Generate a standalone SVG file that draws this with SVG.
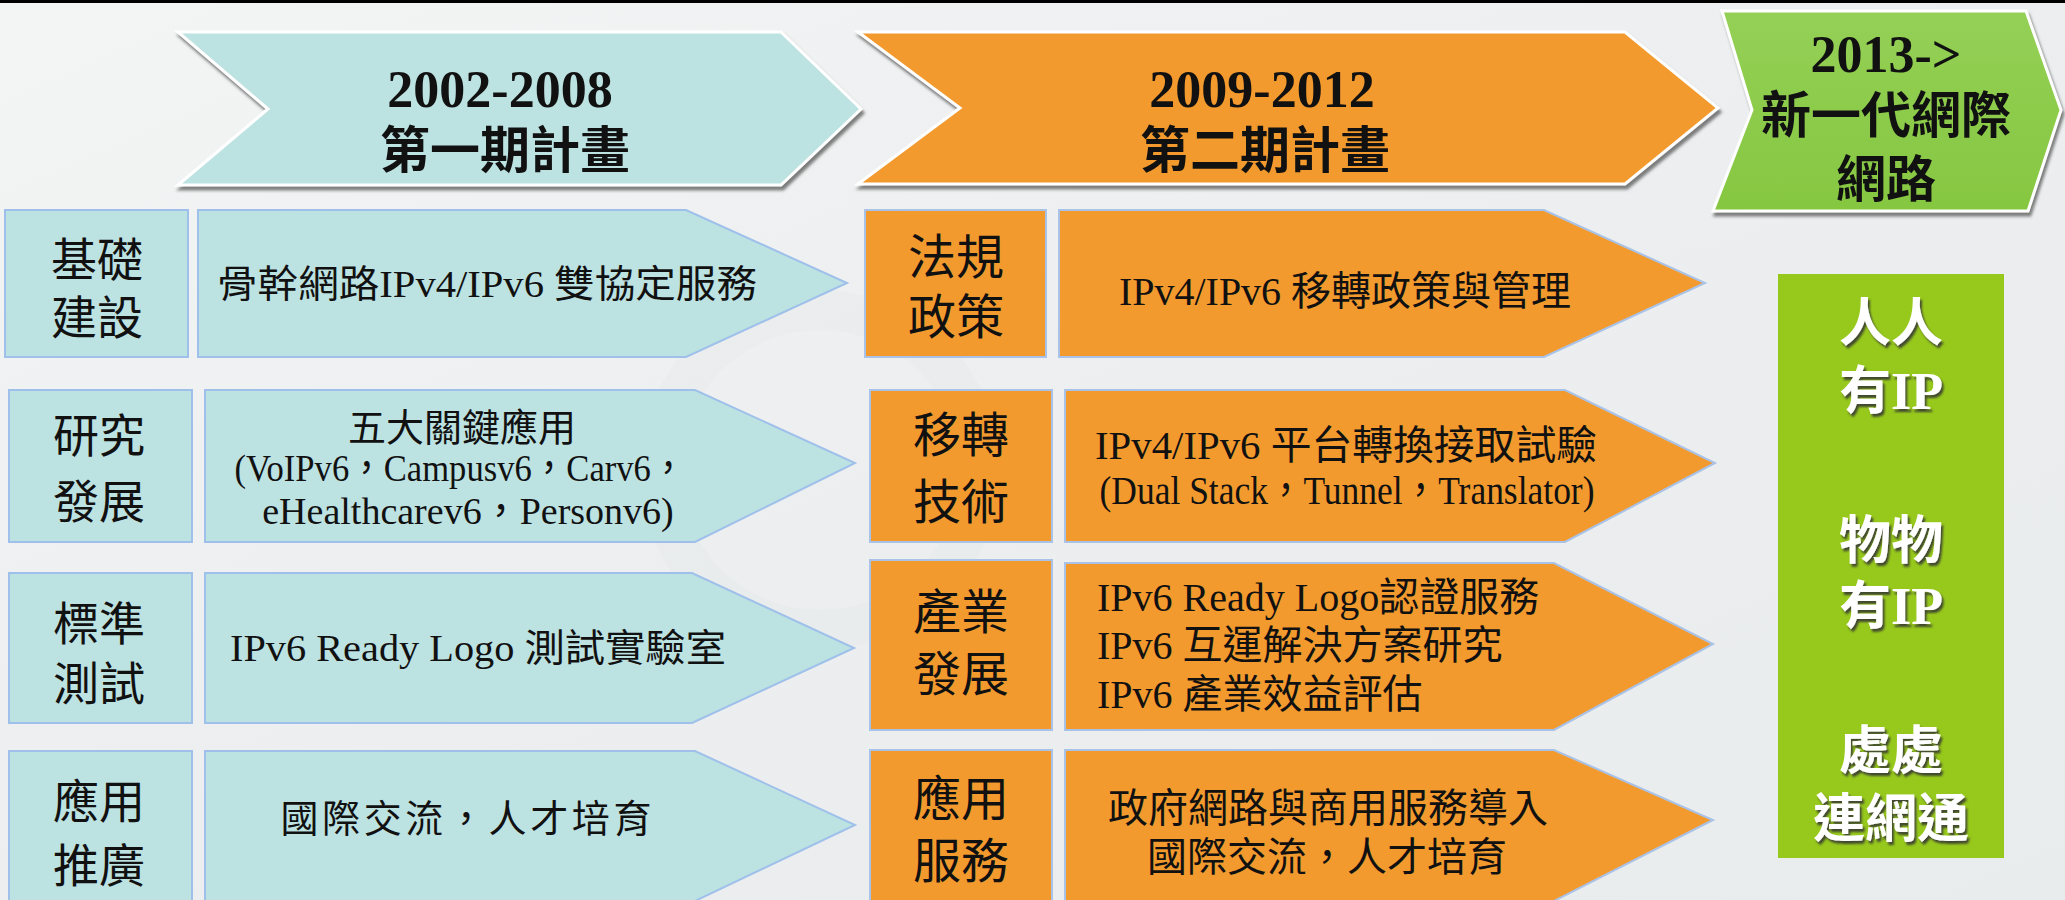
<svg xmlns="http://www.w3.org/2000/svg" width="2065" height="900" viewBox="0 0 2065 900">
<style>
.t{font-family:"Liberation Serif","Noto Sans CJK TC",serif;fill:#111;}
.lab{font-size:46px;text-anchor:middle;}
.labo{font-size:48px;text-anchor:middle;}
.b38{font-size:38px;text-anchor:middle;}
.o40{font-size:40px;}
.hd{font-size:52px;font-weight:bold;text-anchor:middle;}
.hc{font-size:50px;font-weight:bold;text-anchor:middle;}
.wt{font-family:"Liberation Serif","Noto Sans CJK TC",serif;font-size:52px;font-weight:bold;fill:#fff;text-anchor:middle;filter:url(#tsh);}
.blue{fill:#BDE2E2;stroke:#9FC0EA;stroke-width:2;}
.org{fill:#F39A2E;stroke:#A9C3E8;stroke-width:2;}
.hdr{stroke:#fff;stroke-width:3;filter:url(#hsh);}
</style>
<defs>
<linearGradient id="bg" x1="0" y1="0" x2="1" y2="1">
<stop offset="0" stop-color="#F3F5F5"/>
<stop offset="0.5" stop-color="#ECEEEF"/>
<stop offset="1" stop-color="#E9ECED"/>
</linearGradient>
<linearGradient id="gh" x1="0" y1="0" x2="0" y2="1">
<stop offset="0" stop-color="#94D056"/>
<stop offset="1" stop-color="#86C741"/>
</linearGradient>
<filter id="hsh" x="-5%" y="-10%" width="110%" height="125%">
<feDropShadow dx="2" dy="4" stdDeviation="1.5" flood-color="#6f6f6f" flood-opacity="0.9"/>
</filter>
<filter id="tsh" x="-10%" y="-10%" width="120%" height="130%">
<feDropShadow dx="2" dy="3" stdDeviation="1.2" flood-color="#333" flood-opacity="0.85"/>
</filter>
</defs>
<rect width="2065" height="900" fill="url(#bg)"/>
<circle cx="820" cy="470" r="160" fill="none" stroke="#E4E7E8" stroke-width="40" opacity="0.35"/>
<rect x="0" y="0" width="2065" height="3" fill="#000"/>

<g id="header1">
<polygon class="hdr" fill="#BDE2E2" points="178,32 781,32 861,109 781,185 178,185 268,109"/>
<text class="t hd" x="500" y="107">2002-2008</text>
<text class="t hc" x="505" y="168">第一期計畫</text>
</g>
<g id="header2">
<polygon class="hdr" fill="#F39A2E" points="858,32 1625,32 1718,108 1625,184 858,184 960,108"/>
<text class="t hd" x="1262" y="107">2009-2012</text>
<text class="t hc" x="1265" y="168">第二期計畫</text>
</g>
<g id="header3">
<polygon class="hdr" fill="url(#gh)" points="1722,11 2026,11 2061,110 2028,211 1713,211 1752,110"/>
<text class="t hd" x="1886" y="72">2013-&gt;</text>
<text class="t hc" x="1886" y="133">新一代網際</text>
<text class="t hc" x="1886" y="197">網路</text>
</g>

<g id="blue-row1">
<rect class="blue" x="5" y="210" width="183" height="147"/>
<text class="t lab" x="97" y="276">基礎</text>
<text class="t lab" x="97" y="334">建設</text>
<polygon class="blue" points="198,210 686,210 847,283 686,357 198,357"/>
<text class="t b38" x="487" y="297" textLength="540" lengthAdjust="spacingAndGlyphs">骨幹網路IPv4/IPv6 雙協定服務</text>
</g>
<g id="blue-row2">
<rect class="blue" x="9" y="390" width="183" height="152"/>
<text class="t lab" x="99" y="452">研究</text>
<text class="t lab" x="99" y="518">發展</text>
<polygon class="blue" points="205,390 695,390 855,463 695,542 205,542"/>
<text class="t b38" x="462" y="441">五大關鍵應用</text>
<text class="t b38" x="460" y="481" textLength="451" lengthAdjust="spacingAndGlyphs">(VoIPv6，Campusv6，Carv6，</text>
<text class="t b38" x="468" y="524">eHealthcarev6，Personv6)</text>
</g>
<g id="blue-row3">
<rect class="blue" x="9" y="573" width="183" height="150"/>
<text class="t lab" x="99" y="640">標準</text>
<text class="t lab" x="99" y="700">測試</text>
<polygon class="blue" points="205,573 692,573 854,648 692,723 205,723"/>
<text class="t b38" x="478" y="661" textLength="496" lengthAdjust="spacingAndGlyphs">IPv6 Ready Logo 測試實驗室</text>
</g>
<g id="blue-row4">
<rect class="blue" x="9" y="751" width="183" height="152"/>
<text class="t lab" x="99" y="818">應用</text>
<text class="t lab" x="99" y="882">推廣</text>
<polygon class="blue" points="205,751 695,751 855,825 695,901 205,901"/>
<text class="t b38" x="466" y="832" textLength="371" lengthAdjust="spacing">國際交流，人才培育</text>
</g>

<g id="orange-row1">
<rect class="org" x="865" y="210" width="181" height="147"/>
<text class="t labo" x="956" y="274">法規</text>
<text class="t labo" x="956" y="334">政策</text>
<polygon class="org" points="1059,210 1544,210 1705,283 1544,357 1059,357"/>
<text class="t o40" x="1345" y="305" text-anchor="middle">IPv4/IPv6 移轉政策與管理</text>
</g>
<g id="orange-row2">
<rect class="org" x="870" y="390" width="182" height="152"/>
<text class="t labo" x="961" y="452">移轉</text>
<text class="t labo" x="961" y="519">技術</text>
<polygon class="org" points="1065,390 1565,390 1715,463 1565,542 1065,542"/>
<text class="t o40" x="1346" y="459" text-anchor="middle" textLength="502" lengthAdjust="spacingAndGlyphs">IPv4/IPv6 平台轉換接取試驗</text>
<text class="t o40" x="1347" y="504" text-anchor="middle" textLength="495" lengthAdjust="spacingAndGlyphs">(Dual Stack，Tunnel，Translator)</text>
</g>
<g id="orange-row3">
<rect class="org" x="870" y="560" width="182" height="170"/>
<text class="t labo" x="961" y="629">產業</text>
<text class="t labo" x="961" y="691">發展</text>
<polygon class="org" points="1065,563 1554,563 1713,644 1554,730 1065,730"/>
<text class="t o40" x="1097" y="611">IPv6 Ready Logo認證服務</text>
<text class="t o40" x="1097" y="659">IPv6 互運解決方案研究</text>
<text class="t o40" x="1097" y="708">IPv6 產業效益評估</text>
</g>
<g id="orange-row4">
<rect class="org" x="870" y="750" width="182" height="153"/>
<text class="t labo" x="961" y="816">應用</text>
<text class="t labo" x="961" y="878">服務</text>
<polygon class="org" points="1065,750 1554,750 1713,820 1554,901 1065,901"/>
<text class="t o40" x="1328" y="822" text-anchor="middle">政府網路與商用服務導入</text>
<text class="t o40" x="1327" y="871" text-anchor="middle">國際交流，人才培育</text>
</g>

<g id="future-box">
<rect x="1778" y="274" width="226" height="584" fill="#97C91C"/>
<text class="wt" x="1891" y="341">人人</text>
<text class="wt" x="1891" y="409">有IP</text>
<text class="wt" x="1891" y="559">物物</text>
<text class="wt" x="1891" y="624">有IP</text>
<text class="wt" x="1891" y="769">處處</text>
<text class="wt" x="1891" y="837">連網通</text>
</g>
<g id="connectors"></g>
</svg>
